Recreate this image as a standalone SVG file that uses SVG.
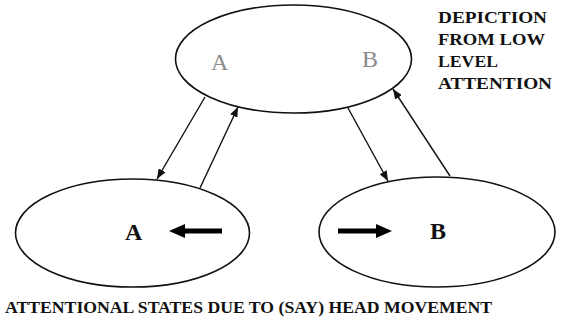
<svg xmlns="http://www.w3.org/2000/svg" width="562" height="328" viewBox="0 0 562 328">
  <style>
    .state { fill: #ffffff; stroke: #111111; stroke-width: 1.6; }
    .link { fill: none; stroke: #111111; stroke-width: 1.4; marker-end: url(#tip); }
    .move { fill: none; stroke: #000000; stroke-width: 5; }
    text { font-family: "Times New Roman", Times, "Liberation Serif", "DejaVu Serif", "Noto Serif", Tinos, serif; }
    .label { font-size: 24px; }
    .faint { fill: #8a8a8a; }
    .bold { fill: #111111; font-weight: bold; }
    .caption { font-weight: bold; font-size: 16px; fill: #111111; }
  </style>
  <defs>
    <marker id="tip" viewBox="0 0 10 8" refX="10" refY="4" markerWidth="10" markerHeight="8" markerUnits="userSpaceOnUse" orient="auto">
      <path d="M0,0 L10,4 L0,8 Z" fill="#111111"/>
    </marker>
  </defs>
  <rect width="562" height="328" fill="#ffffff"/>

  <g id="connectors">
    <line class="link" x1="205" y1="97" x2="157" y2="179"/>
    <line class="link" x1="200" y1="188" x2="238" y2="107"/>
    <line class="link" x1="348" y1="108" x2="388" y2="181"/>
    <line class="link" x1="450" y1="176" x2="393" y2="89"/>
  </g>

  <g id="low-level">
    <ellipse class="state" cx="293.5" cy="59" rx="118" ry="54"/>
    <text class="label faint" x="211" y="70">A</text>
    <text class="label faint" x="362" y="67">B</text>
  </g>

  <g id="state-a">
    <ellipse class="state" cx="132.5" cy="233" rx="117" ry="54"/>
    <text class="label bold" x="125" y="240">A</text>
    <line class="move" x1="222" y1="231" x2="182" y2="231"/>
    <path d="M169,231 L185,224 L185,238 Z" fill="#000000"/>
  </g>

  <g id="state-b">
    <ellipse class="state" cx="437" cy="232" rx="118" ry="55"/>
    <text class="label bold" x="430" y="239">B</text>
    <line class="move" x1="338" y1="231" x2="378" y2="231"/>
    <path d="M392,231 L376,224 L376,238 Z" fill="#000000"/>
  </g>

  <g id="note">
    <text class="caption" x="438" y="23" textLength="109" lengthAdjust="spacingAndGlyphs">DEPICTION</text>
    <text class="caption" x="438" y="45" textLength="107" lengthAdjust="spacingAndGlyphs">FROM LOW</text>
    <text class="caption" x="438" y="67" textLength="60" lengthAdjust="spacingAndGlyphs">LEVEL</text>
    <text class="caption" x="438" y="89" textLength="114" lengthAdjust="spacingAndGlyphs">ATTENTION</text>
  </g>

  <g id="title">
    <text class="caption" x="5" y="313" textLength="487" lengthAdjust="spacingAndGlyphs">ATTENTIONAL STATES DUE TO (SAY) HEAD MOVEMENT</text>
  </g>
</svg>
